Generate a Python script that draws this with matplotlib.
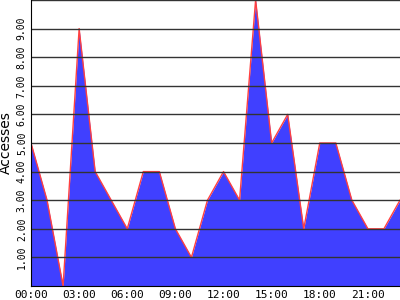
import matplotlib
matplotlib.use("Agg")
import matplotlib.pyplot as plt

# hourly access counts
hours = list(range(24))
accesses = [5, 3, 0, 9, 4, 3, 2, 4, 4, 2, 1, 3, 4, 3, 10, 5, 6, 2, 5, 5, 3, 2, 2, 3]
xtick_pos = [0, 3, 6, 9, 12, 15, 18, 21]
xtick_labels = ["00:00", "03:00", "06:00", "09:00", "12:00", "15:00", "18:00", "21:00"]
ytick_pos = [1, 2, 3, 4, 5, 6, 7, 8, 9]
ytick_labels = ["%.2f" % v for v in ytick_pos]

fig = plt.figure(figsize=(4, 3), dpi=100)
ax = fig.add_axes([31 / 400, 14 / 300, 369 / 400, 286 / 300])

ax.fill_between(hours, accesses, 0, color="#4040ff", linewidth=0, zorder=1)
ax.plot(hours, accesses, color="#ff4040", linewidth=1, zorder=2)

# grid lines drawn over the fill
for v in ytick_pos + [10]:
    ax.axhline(v, color="#333333", linewidth=1, zorder=3)

ax.set_xlim(0, 23)
ax.set_ylim(0, 10)

ax.set_xticks(xtick_pos)
ax.set_xticklabels(xtick_labels, family="DejaVu Sans Mono", fontsize=8)
ax.set_yticks(ytick_pos)
ax.set_yticklabels(ytick_labels, family="DejaVu Sans Mono", fontsize=7,
                   rotation=90, va="center")
ax.tick_params(length=0, pad=3)

ax.set_ylabel("Accesses", fontsize=10, labelpad=3)

ax.spines["top"].set_visible(False)
ax.spines["right"].set_visible(False)
ax.spines["left"].set_color("black")
ax.spines["bottom"].set_color("black")
ax.spines["left"].set_zorder(4)
ax.spines["bottom"].set_zorder(4)

fig.savefig("out.png", dpi=100)
